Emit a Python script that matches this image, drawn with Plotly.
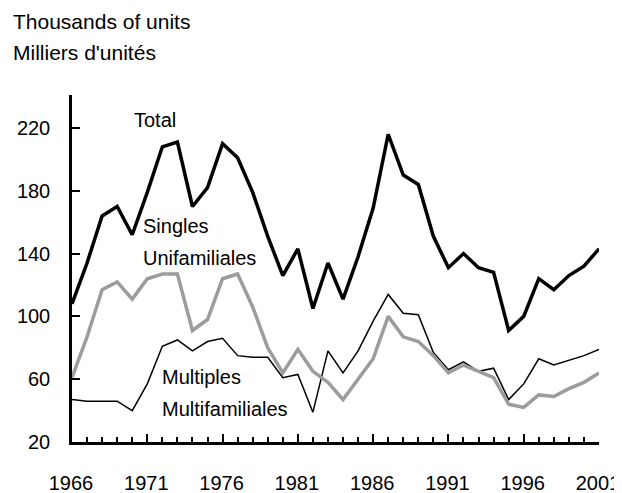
import plotly.graph_objects as go

years = list(range(1966, 2002))

total = [108, 134, 164, 170, 152, 179, 208, 211, 170, 182, 210, 201, 179, 151, 126, 143,
         105, 134, 111, 138, 169, 216, 190, 184, 151, 131, 140, 131, 128, 91, 100, 124,
         117, 126, 132, 143]
singles = [61, 87, 117, 122, 111, 124, 127, 127, 91, 98, 124, 127, 106, 80, 64, 79,
           65, 58, 47, 60, 73, 100, 87, 84, 75, 64, 69, 65, 61, 44, 42, 50,
           49, 54, 58, 64]
multiples = [47, 46, 46, 46, 40, 57, 81, 85, 78, 84, 86, 75, 74, 74, 61, 63,
             39, 78, 64, 78, 97, 114, 102, 101, 77, 66, 71, 65, 67, 47, 57, 73,
             69, 72, 75, 79]

FONT = "Liberation Sans, Arial, sans-serif"

# the page keeps an 8px body margin; the figure overhangs the window by 8px
OFF = 8
W, H = 622, 493
L, R, T, B = 64, 31, 87, 59
PW, PH = W - L - R, H - T - B


def px_to_paper(xp, yp):
    # xp, yp are window pixel coordinates
    return (xp - OFF - L) / PW, 1 - (yp - OFF - T) / PH


fig = go.Figure()
fig.add_trace(go.Scatter(x=years, y=multiples, mode="lines", name="Multiples",
                         line=dict(color="black", width=1.5)))
fig.add_trace(go.Scatter(x=years, y=singles, mode="lines", name="Singles",
                         line=dict(color="#9c9c9c", width=3.5)))
fig.add_trace(go.Scatter(x=years, y=total, mode="lines", name="Total",
                         line=dict(color="black", width=3.5)))

# series labels, placed in data units
labels = [
    ("Total", 1971.5, 225.0, "center"),
    ("Singles", 1970.6, 157.5, "left"),
    ("Unifamiliales", 1970.6, 137.0, "left"),
    ("Multiples", 1971.85, 61.4, "left"),
    ("Multifamiliales", 1971.85, 41.3, "left"),
]
for txt, x, y, anchor in labels:
    fig.add_annotation(x=x, y=y, text=txt, showarrow=False, xanchor=anchor,
                       yanchor="middle", font=dict(size=20, color="black", family=FONT))

# unit caption above the y axis
for txt, ypx in [("Thousands of units", 21), ("Milliers d'unités", 52)]:
    xp, yp = px_to_paper(11, ypx)
    fig.add_annotation(x=xp, y=yp, xref="paper", yref="paper", text=txt,
                       showarrow=False, xanchor="left", yanchor="middle",
                       font=dict(size=21, color="black", family=FONT))

fig.update_layout(
    width=W, height=H,
    margin=dict(l=L, r=R, t=T, b=B),
    paper_bgcolor="white", plot_bgcolor="white",
    showlegend=False,
    font=dict(family=FONT, size=20, color="black"),
)
fig.update_xaxes(
    range=[1966, 2001], tick0=1966, dtick=5, ticks="inside", ticklen=8, tickwidth=1.5,
    tickcolor="black", showline=True, linecolor="black", linewidth=2.5,
    showgrid=False, zeroline=False, ticklabelstandoff=21, ticklabelshift=-1,
    automargin=False, tickfont=dict(size=20, family=FONT),
    minor=dict(dtick=1, tick0=1966, ticks="inside", ticklen=5, tickwidth=1.5, tickcolor="black"),
)
fig.update_yaxes(
    range=[20, 241], tick0=20, dtick=40, ticks="inside", ticklen=8, tickwidth=1.5,
    tickcolor="black", showline=True, linecolor="black", linewidth=2.5,
    showgrid=False, zeroline=False, ticklabelstandoff=15, automargin=False,
    tickfont=dict(size=20, family=FONT),
)

fig.write_html("out.html")
